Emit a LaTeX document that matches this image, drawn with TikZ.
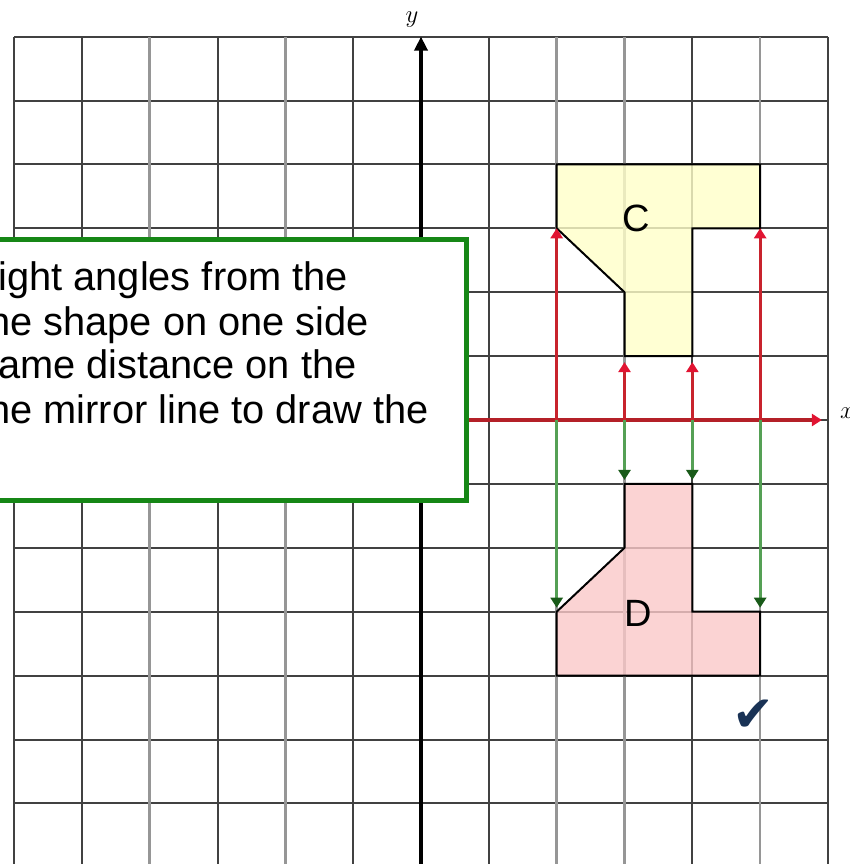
\documentclass[tikz,border=0pt]{standalone}
\usepackage{fontspec}
\setmainfont{Liberation Sans}
\newfontfamily\checkfont{DejaVu Sans}
\usetikzlibrary{arrows.meta}
\definecolor{gridc}{RGB}{65,65,65}
\definecolor{gridl}{RGB}{150,150,150}
\definecolor{boxgreen}{RGB}{22,135,22}
\definecolor{redln}{RGB}{200,35,45}
\definecolor{redtip}{RGB}{225,20,50}
\definecolor{grnln}{RGB}{85,160,85}
\definecolor{grntip}{RGB}{25,90,25}
\definecolor{cfill}{RGB}{255,255,200}
\definecolor{dfill}{RGB}{250,200,200}
\definecolor{navy}{RGB}{25,50,85}
\begin{document}
\begin{tikzpicture}[x=67.83bp,y=63.9bp,
  gridline/.style={draw=gridc,line width=2bp},
  gridlight/.style={draw=gridl,line width=2.5bp},
  shapeline/.style={draw=black,line width=2bp,line join=miter},
  redarrow/.style={draw=redln,line width=3bp,-{Triangle[length=10bp,width=12bp,color=redtip]}},
  greenarrow/.style={draw=grnln,line width=3bp,-{Triangle[length=10bp,width=12bp,color=grntip]}},
  redaxis/.style={draw=redln!90!black,line width=3.2bp,-{Triangle[length=10bp,width=12bp,color=redtip]}},
  yaxis/.style={draw=black,line width=3.5bp,-{Triangle[length=14bp,width=13bp]}},
  boxstyle/.style={draw=boxgreen,fill=white,line width=5bp},
  txt/.style={anchor=base west,inner sep=0pt,font=\fontsize{39.8bp}{44bp}\selectfont,text=black},
  lbl/.style={inner sep=0pt,font=\fontsize{38bp}{38bp}\selectfont,text=black},
  axlbl/.style={inner sep=0pt,font=\fontsize{24bp}{24bp}\selectfont}]
\path[use as bounding box,clip] (-6.2067,-6.948) rectangle (6.310,6.5728);

% grid
\foreach \y in {-6,...,6} \draw[gridline] (-6,\y) -- (6,\y);
\foreach \x in {-6,-5,-3,-1,0,1,4,6} \draw[gridline] (\x,-7.2) -- (\x,6);
\foreach \x in {-4,-2,2,3,5} \draw[gridlight] (\x,-7.2) -- (\x,6);

% shape C
\coordinate (C1) at (2,4); \coordinate (C2) at (5,4); \coordinate (C3) at (5,3);
\coordinate (C4) at (4,3); \coordinate (C5) at (4,1); \coordinate (C6) at (3,1);
\coordinate (C7) at (3,2); \coordinate (C8) at (2,3);
\fill[cfill,fill opacity=0.8] (C1)--(C2)--(C3)--(C4)--(C5)--(C6)--(C7)--(C8)--cycle;
\draw[shapeline] (C1)--(C2)--(C3)--(C4)--(C5)--(C6)--(C7)--(C8)--cycle;

% shape D
\coordinate (D1) at (2,-4); \coordinate (D2) at (5,-4); \coordinate (D3) at (5,-3);
\coordinate (D4) at (4,-3); \coordinate (D5) at (4,-1); \coordinate (D6) at (3,-1);
\coordinate (D7) at (3,-2); \coordinate (D8) at (2,-3);
\fill[dfill,fill opacity=0.8] (D1)--(D2)--(D3)--(D4)--(D5)--(D6)--(D7)--(D8)--cycle;
\draw[shapeline] (D1)--(D2)--(D3)--(D4)--(D5)--(D6)--(D7)--(D8)--cycle;

% axes
\coordinate (XL) at (-6,0); \coordinate (XR) at (5.91,0);
\coordinate (YB) at (0,-7.2); \coordinate (YT) at (0,6);
\draw[yaxis] (YB) -- (YT);
\draw[redaxis] (XL) -- (XR);

% construction arrows
\coordinate (A2) at (2,0); \coordinate (A3) at (3,0);
\coordinate (A4) at (4,0); \coordinate (A5) at (5,0);
\draw[redarrow] (A2) -- (C8);
\draw[redarrow] (A5) -- (C3);
\draw[redarrow,shorten >=6bp] (A3) -- (C6);
\draw[redarrow,shorten >=6bp] (A4) -- (C5);
\draw[greenarrow,shorten >=4bp] (A2) -- (D8);
\draw[greenarrow,shorten >=4bp] (A5) -- (D3);
\draw[greenarrow,shorten >=4bp] (A3) -- (D6);
\draw[greenarrow,shorten >=4bp] (A4) -- (D5);

% text box
\draw[boxstyle] (-6.8,-1.252) rectangle (0.673,2.817);
\node[txt] (t1) at (-6.428,2.034) {right angles from the};
\node[txt] (t2) at (-6.546,1.330) {the shape on one side};
\node[txt] (t3) at (-6.531,0.657) {same distance on the};
\node[txt] (t4) at (-6.546,-0.047) {the mirror line to draw the};

% labels
\node[lbl] (lc) at (3.17,3.153) {C};
\node[lbl] (ld) at (3.20,-3.03) {D};
\node[axlbl] (ylab) at (-0.133,6.26) {$y$};
\node[axlbl] (xlab) at (6.28,0.1) {$x$};
\node[inner sep=0pt,text=navy,font=\checkfont\fontsize{50bp}{50bp}\selectfont] (chk) at (4.9,-4.62) {✔};
\end{tikzpicture}
\end{document}
